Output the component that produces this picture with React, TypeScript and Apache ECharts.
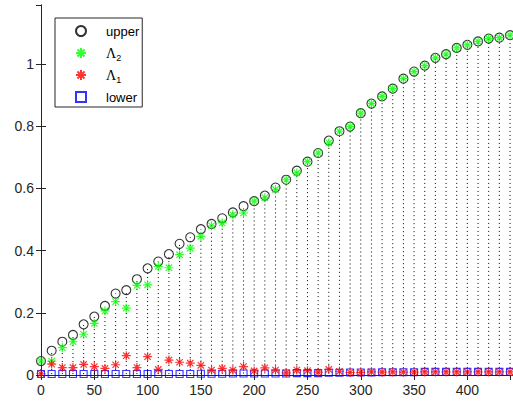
import React, { useEffect, useRef } from "react";
import * as echarts from "echarts";

const xs = [0, 10, 20, 30, 40, 50, 60, 70, 80, 90, 100, 110, 120, 130, 140, 150, 160, 170, 180, 190, 200, 210, 220, 230, 240, 250, 260, 270, 280, 290, 300, 310, 320, 330, 340, 350, 360, 370, 380, 390, 400, 410, 420, 430, 440];

const upper = [0.045, 0.078, 0.107, 0.129, 0.163, 0.188, 0.222, 0.262, 0.273, 0.308, 0.343, 0.365, 0.389, 0.422, 0.443, 0.469, 0.486, 0.504, 0.523, 0.543, 0.559, 0.577, 0.603, 0.628, 0.657, 0.686, 0.714, 0.754, 0.784, 0.799, 0.842, 0.873, 0.896, 0.921, 0.953, 0.976, 0.995, 1.02, 1.032, 1.052, 1.062, 1.073, 1.082, 1.085, 1.093];

const lambda2 = [0.045, 0.045, 0.088, 0.107, 0.131, 0.166, 0.206, 0.236, 0.215, 0.288, 0.29, 0.349, 0.345, 0.387, 0.408, 0.446, 0.48, 0.489, 0.515, 0.521, 0.559, 0.57, 0.597, 0.628, 0.65, 0.686, 0.714, 0.747, 0.784, 0.799, 0.842, 0.873, 0.896, 0.921, 0.953, 0.976, 0.995, 1.02, 1.032, 1.052, 1.062, 1.073, 1.082, 1.085, 1.093];

const lambda1 = [0.004, 0.035, 0.024, 0.024, 0.034, 0.027, 0.021, 0.033, 0.062, 0.024, 0.059, 0.018, 0.048, 0.041, 0.038, 0.031, 0.016, 0.021, 0.016, 0.027, 0.013, 0.023, 0.016, 0.007, 0.016, 0.014, 0.009, 0.018, 0.012, 0.008, 0.008, 0.01, 0.009, 0.01, 0.009, 0.009, 0.01, 0.01, 0.01, 0.01, 0.01, 0.01, 0.01, 0.01, 0.01];

const lower = [0.003, 0.003, 0.003, 0.003, 0.003, 0.003, 0.003, 0.003, 0.003, 0.003, 0.003, 0.003, 0.003, 0.003, 0.003, 0.004, 0.004, 0.004, 0.005, 0.005, 0.005, 0.005, 0.005, 0.005, 0.006, 0.006, 0.006, 0.007, 0.007, 0.008, 0.008, 0.008, 0.009, 0.009, 0.009, 0.009, 0.01, 0.01, 0.01, 0.01, 0.01, 0.01, 0.01, 0.01, 0.01];

const seriesNames = ["upper", "Λ2", "Λ1", "lower"];

const AXIS = "#262626";
const STAR = "path://M0,-5L0,5M-5,0L5,0M-3.54,-3.54L3.54,3.54M-3.54,3.54L3.54,-3.54";
const SQUARE = "path://M0,0L10,0L10,10L0,10Z";

export default function App() {
  const ref = useRef<HTMLDivElement>(null);
  useEffect(() => {
    if (!ref.current) return;
    const chart = echarts.init(ref.current, null, { renderer: "svg" });
    const pts = (ys: number[]) => xs.map((x, i) => [x, ys[i]]);
    const stems = xs.map((x, i) => [x, lower[i], upper[i]]);
    const xCommon = { type: "value", min: 0, max: 440, interval: 50 };
    const yCommon = { type: "value", min: 0, max: 1.19, interval: 0.2 };
    const axisLine = { show: true, lineStyle: { color: AXIS, width: 1 } };
    const axisTick = { show: true, inside: true, length: 5, lineStyle: { color: AXIS } };
    const label = { color: AXIS, fontSize: 14, fontFamily: "Liberation Sans, Arial, sans-serif", showMaxLabel: false };
    chart.setOption({
      animation: false,
      backgroundColor: "#fff",
      grid: { left: 41, right: 3, top: 5, bottom: 28, containLabel: false },
      xAxis: [
        { ...xCommon, position: "bottom", axisLine, axisTick, axisLabel: { ...label, margin: 8 }, splitLine: { show: false } },
        { ...xCommon, position: "top", axisLine, axisTick, axisLabel: { show: false }, splitLine: { show: false } },
      ],
      yAxis: [
        { ...yCommon, position: "left", axisLine, axisTick, axisLabel: { ...label, margin: 7 }, splitLine: { show: false } },
        { ...yCommon, position: "right", axisLine, axisTick, axisLabel: { show: false }, splitLine: { show: false } },
      ],
      legend: {
        data: seriesNames,
        orient: "vertical",
        left: 55,
        top: 18,
        padding: [4, 3, 1, 20],
        itemWidth: 40,
        itemHeight: 10,
        itemGap: 4,
        symbolKeepAspect: true,
        borderColor: AXIS,
        borderWidth: 1,
        backgroundColor: "#fff",
        selectedMode: false,
        formatter: (name: string) => {
          if (name === "Λ2") return "{g|Λ}{s|2}";
          if (name === "Λ1") return "{g|Λ}{s|1}";
          return "{n|" + name + "}";
        },
        textStyle: {
          color: "#000",
          fontSize: 13,
          lineHeight: 18,
          fontFamily: "Liberation Sans, Arial, sans-serif",
          rich: {
            n: { fontSize: 13, lineHeight: 18, color: "#000", fontFamily: "Liberation Sans, Arial, sans-serif" },
            g: { fontSize: 14, lineHeight: 18, color: "#000", fontFamily: "Liberation Serif, serif" },
            s: { fontSize: 9, lineHeight: 8, verticalAlign: "bottom", color: "#000", fontFamily: "Liberation Sans, Arial, sans-serif" },
          },
        },
      },
      series: [
        {
          type: "custom",
          name: "stems",
          xAxisIndex: 0,
          yAxisIndex: 0,
          data: stems,
          encode: { x: 0, y: [1, 2] },
          silent: true,
          renderItem: (_p: any, api: any) => {
            const a = api.coord([api.value(0), api.value(1)]);
            const b = api.coord([api.value(0), api.value(2)]);
            return {
              type: "line",
              shape: { x1: a[0], y1: a[1], x2: b[0], y2: b[1] },
              style: { stroke: "#000", lineWidth: 1, lineDash: [1, 3] },
            };
          },
          z: 1,
        },
        {
          type: "scatter",
          name: "upper",
          data: pts(upper),
          symbol: "circle",
          symbolSize: 9,
          itemStyle: { color: "rgba(0,0,0,0)", borderColor: "#000", borderWidth: 1.1 },
          z: 2,
        },
        {
          type: "scatter",
          name: "lower",
          data: pts(lower),
          symbol: SQUARE,
          symbolSize: 7,
          symbolKeepAspect: true,
          itemStyle: { color: "rgba(0,0,0,0)", borderColor: "#0000ff", borderWidth: 1.1 },
          z: 3,
        },
        {
          type: "scatter",
          name: "Λ2",
          data: pts(lambda2),
          symbol: STAR,
          symbolSize: 9,
          itemStyle: { color: "rgba(0,0,0,0)", borderColor: "#00ff00", borderWidth: 1.2 },
          z: 4,
        },
        {
          type: "scatter",
          name: "Λ1",
          data: pts(lambda1),
          symbol: STAR,
          symbolSize: 9,
          itemStyle: { color: "rgba(0,0,0,0)", borderColor: "#ff0000", borderWidth: 1.2 },
          z: 5,
        },
      ],
    });
    return () => chart.dispose();
  }, []);
  return <div ref={ref} style={{ width: 513, height: 403, position: "absolute", left: 0, top: 0 }} />;
}
